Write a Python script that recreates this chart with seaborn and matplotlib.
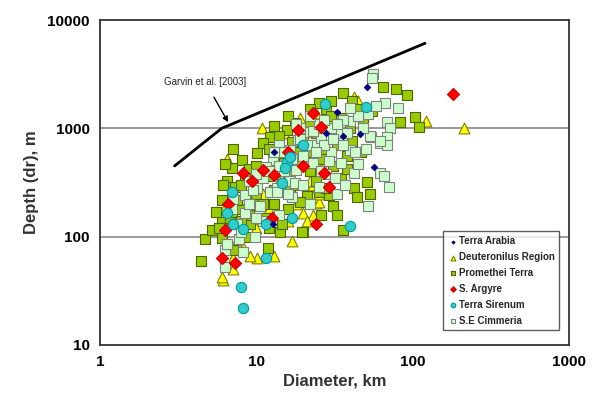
import matplotlib
matplotlib.use("Agg")
import matplotlib.pyplot as plt
import seaborn as sns
import pandas as pd

# crater diameter (km) / depth (m)
arabia_d = [51, 33, 46, 36, 57, 12.8, 28, 13]
arabia_dr = [2400, 1420, 880, 850, 440, 130, 900, 600]

deut_d = [121, 213, 42, 45, 24, 23, 23, 24, 23, 20, 10.8, 6.5, 17, 13, 10.1, 9.1, 7.1, 7.1,
          6.1, 8.2, 6.8, 7.5, 6, 33, 19, 15, 26, 11, 21, 10, 28, 6.2, 14, 25,
          20, 22, 25, 18, 27, 16, 12, 8, 30]
deut_dr = [1170, 1000, 1950, 1800, 1400, 300, 235, 205, 160, 165, 1000, 520, 92, 66, 63, 67, 63, 50,
           40, 80, 83, 94, 42, 1000, 1250, 900, 430, 250, 140, 120, 700, 180, 330, 210,
           500, 330, 250, 200, 600, 140, 180, 130, 1150]

prom_d = [4.4, 4.7, 36, 41, 65, 78, 92, 104, 110, 83, 41, 51, 53, 31, 26, 36, 20, 17.7, 22, 12.2,
          11, 10.1, 7.1, 8.1, 7, 6.5, 7.1, 15.7, 6.1, 7.3, 6, 6, 6, 9.1, 11.4, 11.9, 14.2, 19.5,
          14.6, 26, 7.1, 8.7, 21, 25, 16.5, 28, 30, 24, 33, 38, 45, 35, 19, 13, 9, 12, 15, 27, 22,
          18, 10, 8, 9.5, 5.5, 6.8, 32, 40, 55, 48, 29, 16, 13, 20, 25, 8.5, 6.3, 5.2, 12,
          14, 17, 23, 26, 31, 35, 42, 47, 12, 10, 8, 7.5, 9, 11, 13, 16, 19, 24, 28, 33, 38, 44,
          16, 22, 30, 13, 18, 7, 5.8, 8]
prom_dr = [60, 95, 2100, 1800, 2400, 2300, 2050, 1260, 1020, 1150, 770, 320, 250, 190, 160, 115, 110,
           1110, 1110, 830, 730, 590, 650, 510, 430, 330, 290, 960, 300, 285, 220, 137, 98, 130, 150,
           78, 110, 110, 130, 160, 76, 100, 235, 260, 270, 1500, 1300, 900, 700, 550, 1500, 1250, 650,
           520, 420, 360, 480, 620, 400, 300, 250, 180, 200, 170, 150, 900, 1000, 1450, 1100, 240, 180,
           200, 850, 1700, 350, 470, 115, 120,
           850, 750, 600, 520, 450, 350, 280, 600, 650, 450, 300, 220, 160, 200, 270, 380, 210, 330,
           280, 160, 420, 230, 1300, 1500, 1800, 1050, 500, 170, 120, 140]

argyre_d = [182, 23, 26, 27, 29, 24, 18.5, 11, 13, 8.2, 12.6, 6.3, 6.0, 7.3, 9.4, 6.6, 16, 20]
argyre_dr = [2070, 1380, 1020, 390, 290, 132, 960, 410, 370, 390, 150, 115, 64, 57, 330, 200, 600, 450]

siren_d = [8, 8.2, 27.5, 50, 40, 6.5, 7.1, 8.2, 11.5, 11.5, 17, 14.6, 15.7, 15.3, 16.4, 7, 20]
siren_dr = [34, 22, 1680, 1560, 125, 165, 130, 118, 130, 63, 150, 310, 490, 430, 540, 260, 700]

cimm_d = [56, 55, 67, 81, 52, 69, 72, 54, 62, 69, 69, 62, 66, 71, 52, 40, 40, 42, 33, 35, 36, 18.5,
          21, 24, 16.4, 12.8, 11.6, 18, 16.4, 10.1, 13.5, 8.5, 9.5, 7.1, 8.5, 9.8, 7.7, 8.2, 6.3, 6.3,
          12.3, 13.5, 17, 17.7, 25, 53, 62, 45, 14, 20, 26, 30, 23, 28, 34, 15, 11, 9, 19, 30, 45, 58,
          10.5, 7.5, 14, 22, 40,
          15, 17, 19, 21, 23, 25, 27, 29, 31, 33, 36, 38, 14, 12, 10, 9, 11, 16, 20, 24, 26, 32, 37,
          43, 48, 50, 13, 18, 22, 27, 8, 7, 6.5, 10]
cimm_dr = [3150, 2900, 1700, 1550, 1350, 1140, 1000, 830, 730, 830, 700, 390, 360, 290, 190, 1180, 630,
           390, 250, 475, 1190, 780, 920, 700, 630, 510, 440, 410, 330, 280, 280, 240, 270, 225, 165,
           100, 95, 72, 52, 76, 260, 260, 230, 310, 290, 850, 760, 470, 700, 560, 820, 600, 480, 380,
           900, 400, 350, 330, 1000, 1000, 1300, 1600, 190, 130, 160, 200, 1550,
           600, 520, 800, 700, 950, 1100, 700, 500, 800, 1100, 700, 900, 450, 400, 380, 200, 140, 250,
           300, 600, 400, 350, 300, 600, 1000, 650, 600, 1100, 1300, 1200, 110, 180, 85, 150]

garvin_d = [3, 6, 120]
garvin_dr = [450, 1000, 6100]

# name, x, y, marker, size, face, edge, zorder
series = [
    ("Terra Arabia", arabia_d, arabia_dr, "D", 10, "#000080", "#000080", 3.6),
    ("Deuteronilus Region", deut_d, deut_dr, "^", 60, "#ffff00", "#808000", 3.0),
    ("Promethei Terra", prom_d, prom_dr, "s", 55, "#99cc00", "#4d6600", 3.1),
    ("S. Argyre", argyre_d, argyre_dr, "D", 38, "#ff0000", "#cc0000", 3.4),
    ("Terra Sirenum", siren_d, siren_dr, "o", 55, "#33cccc", "#009999", 3.5),
    ("S.E Cimmeria", cimm_d, cimm_dr, "s", 55, "#ccffcc", "#808080", 3.2),
]

sns.set_style("white")
plt.rcParams["font.family"] = ["Liberation Sans", "DejaVu Sans"]

fig = plt.figure(figsize=(5.92, 4.09), dpi=100)
ax = fig.add_axes([0.169, 0.1565, 0.792, 0.7945])

for name, d, dr, mk, sz, fc, ec, z in series:
    df = pd.DataFrame({"d": d, "dr": dr})
    sns.scatterplot(data=df, x="d", y="dr", marker=mk, s=sz, color=fc, edgecolor=ec,
                    linewidth=0.8, label=name, ax=ax, zorder=z)

sns.lineplot(x=garvin_d, y=garvin_dr, color="black", linewidth=2, ax=ax, zorder=4)

ax.set_xscale("log")
ax.set_yscale("log")
ax.set_xlim(1, 1000)
ax.set_ylim(10, 10000)
ax.set_xticks([1, 10, 100, 1000], ["1", "10", "100", "1000"])
ax.set_yticks([10, 100, 1000, 10000], ["10", "100", "1000", "10000"])
ax.minorticks_off()
for yv in (100, 1000):
    ax.axhline(yv, color="#999999", linewidth=1.4, zorder=1)
ax.tick_params(direction="out", length=4, width=1, colors="#333333", labelcolor="black",
               labelsize=11)
for lab in ax.get_xticklabels() + ax.get_yticklabels():
    lab.set_fontweight("bold")
for sp in ax.spines.values():
    sp.set_color("#333333")
    sp.set_linewidth(1.3)

ax.set_xlabel("Diameter, km", fontsize=12, fontweight="bold", color="#333333", labelpad=3)
ax.set_ylabel("Depth (dr), m", fontsize=12, fontweight="bold", color="#333333", labelpad=6)

ax.annotate("Garvin et al. [2003]", xy=(6.6, 1140), xytext=(4.7, 2700), fontsize=7,
            ha="center", va="center",
            arrowprops=dict(arrowstyle="-|>", color="black", lw=1, mutation_scale=8,
                            shrinkA=6, shrinkB=0))

leg = ax.legend(loc="lower right", bbox_to_anchor=(0.99, 0.03), markerscale=0.45, fontsize=7,
                frameon=True, fancybox=False, edgecolor="#333333", handletextpad=0.1,
                borderpad=0.5, labelspacing=0.6, handlelength=1.0)
leg.get_frame().set_linewidth(1)
for t in leg.get_texts():
    t.set_fontweight("bold")

fig.savefig("out.png", dpi=100)
